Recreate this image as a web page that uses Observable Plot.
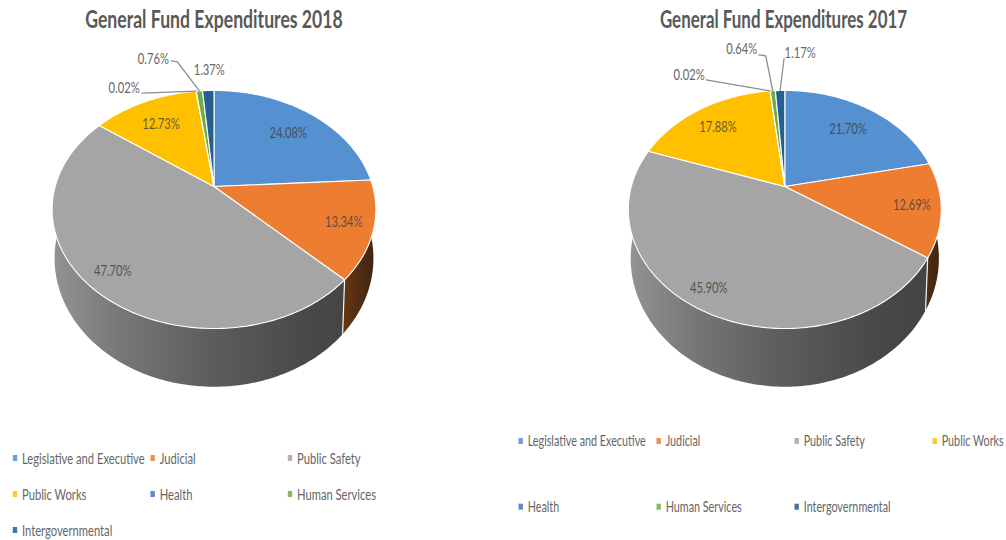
<!DOCTYPE html>
<html>
<head>
<meta charset="utf-8">
<style>
html,body{margin:0;padding:0;background:#fff}
svg{display:block}
</style>
<script src="https://cdn.jsdelivr.net/npm/d3@7"></script>
<script src="https://cdn.jsdelivr.net/npm/@observablehq/plot@0.6"></script>
</head>
<body>
<script>
// ---- data ----
const categories = ["Legislative and Executive","Judicial","Public Safety","Public Works","Health","Human Services","Intergovernmental"];
const values2018 = [24.08,13.34,47.70,12.73,0.02,0.76,1.37];
const values2017 = [21.70,12.69,45.90,17.88,0.02,0.64,1.17];
const labels2018 = ["24.08%","13.34%","47.70%","12.73%","0.02%","0.76%","1.37%"];
const labels2017 = ["21.70%","12.69%","45.90%","17.88%","0.02%","0.64%","1.17%"];
const titles = ["General Fund Expenditures 2018","General Fund Expenditures 2017"];

// ---- styling and layout ----
const sliceColors = ["#5590d0","#ed7d31","#a5a5a5","#ffc000","#4472c4","#70ad47","#255e91"];
const FONT = "Lato, 'Open Sans', sans-serif";
const SQUEEZE = 0.70;
const pies = [
  {values:values2018,labels:labels2018,title:titles[0],cx:213.5,rx:158.8,tx:213.5,titleSize:25.2,legendSize:16,
   place:[[.73,2,2],[.83,-1,0],[.85,-1,0],[.75,1,3],[1,-72,-3],[1,-46,-32],[1,1,-21]],
   leaders:[null,null,null,null,[[0,0],[-54,2]],[[0,0],[-22,-29],[-28,-30]],null],
   legendCols:[15,152.7,290],legendRows:[458,494,530],legendN:3},
  {values:values2017,labels:labels2017,title:titles[1],cx:784.3,rx:153.5,tx:783,titleSize:24.2,legendSize:15.4,
   place:[[.75,-2,2],[.83,-2,0],[.85,-8,-1],[.75,-2,1],[1,-81,-16],[1,-31,-42],[1,20,-38]],
   leaders:[null,null,null,null,[[0,0],[-64,-11]],[[0,0],[-7,-35],[-14,-36]],[[0,0],[4,-32]]],
   legendCols:[520.7,658.7,796.7,934.7],legendRows:[441,506.7],legendN:4}
];
const CY=186, RY=114.6, P=0.193, DEPTH=47, BOTTOM=0.985;

// perspective of the tilted disc: fraction f of the radius at angle a (radians clockwise from top)
const top3d = (p,a,f=1)=>{const u=f*Math.sin(a),v=f*Math.cos(a),w=1+P*v;
  return {x:p.cx+p.rx*u/w,y:CY-RY*v/w};};
const bot3d = (p,a)=>{const u=Math.sin(a),v=Math.cos(a),w=1+P*v;
  return {x:p.cx+BOTTOM*p.rx*u/w,y:CY+(DEPTH-RY*v)/w};};

const grayStops = [[0,"#939393"],[.22,"#767676"],[.5,"#5c5c5c"],[.8,"#484848"],[1,"#424242"]];
const brownStops = [[.84,"#7a3c10"],[.92,"#5f3212"],[1,"#3c2512"]];
const gradientIds = (pi,i)=> i===2 ? `url(#wallGray${pi})` : i===1 ? `url(#wallBrown${pi})` : null;

const faces=[],walls=[],edges=[],texts=[],leaders=[],keys=[];
const visible = a=>Math.cos(a)<=0.12;
pies.forEach((p,pi)=>{
  let cum=0;
  p.values.forEach((val,i)=>{
    const a0=cum/100*2*Math.PI, a1=(cum+val)/100*2*Math.PI, mid=(a0+a1)/2;
    cum+=val;
    const n=Math.max(2,Math.ceil((a1-a0)/(Math.PI/180)));
    const angles=d3.range(n+1).map(k=>a0+(a1-a0)*k/n);
    // top face
    const apex={x:p.cx,y:CY,key:`t${pi}-${i}`,color:sliceColors[i]};
    faces.push(apex,...angles.map(a=>({...apex,...top3d(p,a)})),apex);
    // side wall as one ribbon between the upper and lower rims
    const seen=angles.filter(visible);
    if(seen.length>1 && gradientIds(pi,i)){
      const key=`w${pi}-${i}`,color=gradientIds(pi,i);
      const ribbon=[...seen.map(a=>top3d(p,a)),...seen.slice().reverse().map(a=>bot3d(p,a))];
      ribbon.push(ribbon[0]);
      ribbon.forEach(q=>walls.push({...q,key,color}));
    }
    // white edge between two visible walls
    if(i===1){const T=top3d(p,a1),S=bot3d(p,a1);
      edges.push({...T,key:`e${pi}`},{...S,key:`e${pi}`});}
    // value labels and leaders
    const [f,dx,dy]=p.place[i],base=top3d(p,mid,f);
    texts.push({x:base.x+dx,y:base.y+dy,text:p.labels[i],inside:i<4});
    if(p.leaders[i]) p.leaders[i].forEach(o=>leaders.push({x:base.x+o[0],y:base.y+o[1],key:`l${pi}-${i}`}));
    // legend entries
    const col=i%p.legendN,row=Math.floor(i/p.legendN);
    keys.push({x:p.legendCols[col],y:p.legendRows[row],label:categories[i],color:sliceColors[i],size:p.legendSize});
  });
});

// horizontal shading of the walls, spanning each pie's width
function gradients(){
  const defs=d3.create("svg:defs");
  const add=(id,p,stops)=>{
    const g=defs.append("linearGradient").attr("id",id).attr("gradientUnits","userSpaceOnUse")
      .attr("x1",p.cx-p.rx*1.02).attr("x2",p.cx+p.rx*1.02).attr("y1",0).attr("y2",0);
    stops.forEach(([o,c])=>g.append("stop").attr("offset",o).attr("stop-color",c));
  };
  pies.forEach((p,pi)=>{add(`wallGray${pi}`,p,grayStops);add(`wallBrown${pi}`,p,brownStops);});
  return defs.node();
}

const chart = Plot.plot({
  width:1006,height:540,margin:0,
  x:{domain:[0,1006],range:[0,1006],axis:null},
  y:{domain:[0,540],range:[0,540],axis:null},
  color:{type:"identity"},
  style:{background:"#fff",fontFamily:FONT},
  marks:[
    gradients,
    ...d3.groups(walls,d=>d.key).map(([,pts])=>
      Plot.line(pts,{x:"x",y:"y",fill:pts[0].color,stroke:"none",curve:"linear"})),
    Plot.line(edges,{x:"x",y:"y",z:"key",stroke:"#f4f4f4",strokeWidth:1.2}),
    Plot.line(faces,{x:"x",y:"y",z:"key",fill:"color",stroke:"#fff",strokeWidth:1.1,curve:"linear",strokeLinejoin:"round"}),
    Plot.line(leaders,{x:"x",y:"y",z:"key",stroke:"#8c8c8c",strokeWidth:1.3,curve:"linear"}),
    Plot.text(texts.filter(d=>d.inside),{x:"x",y:"y",text:"text",fill:"#3f3f3f",fillOpacity:.82,fontSize:16}),
    Plot.text(texts.filter(d=>!d.inside),{x:"x",y:"y",text:"text",fill:"#666",fontSize:16}),
    Plot.rect(keys,{x1:d=>d.x-2.2,x2:d=>d.x+2.2,y1:d=>d.y-3,y2:d=>d.y+3,fill:"color",fillOpacity:.85}),
    Plot.text(keys,{x:d=>d.x+6.5,y:"y",text:"label",textAnchor:"start",fill:"#666",fontSize:d=>d.size}),
    Plot.text(pies,{x:"tx",y:()=>19.5,text:"title",fill:"#595959",fontSize:d=>d.titleSize,fontWeight:"bold"})
  ]
});
document.body.append(chart);
// the reference is horizontally compressed: narrow all glyphs by the same factor
chart.querySelectorAll("text").forEach(t=>{
  t.setAttribute("transform",`${t.getAttribute("transform")||""} scale(${SQUEEZE},1)`);
});
</script>
</body>
</html>
